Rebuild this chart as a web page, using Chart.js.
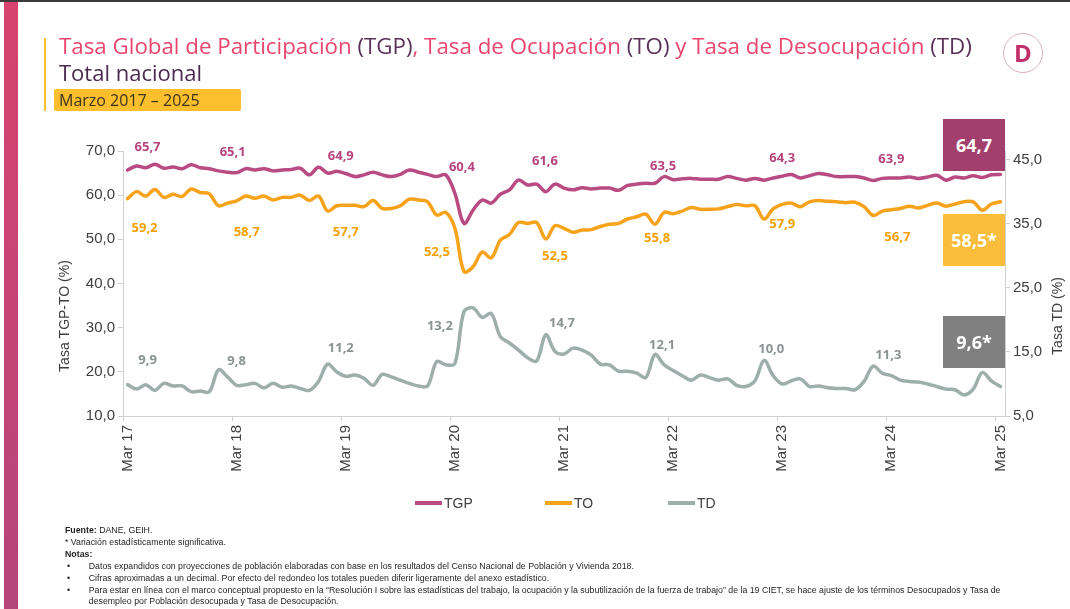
<!DOCTYPE html>
<html>
<head>
<meta charset="utf-8">
<script src="https://cdn.jsdelivr.net/npm/chart.js@4.4.1/dist/chart.umd.min.js"></script>
<style>
    html, body { margin: 0; padding: 0; background: #fff; }
    #page { position: relative; width: 1070px; height: 609px; overflow: hidden; background: #fff; font-family: 'Open Sans', sans-serif; }
    #topline { position: absolute; left: 0; top: 0; width: 1070px; height: 2px; background: #3b3b3b; }
    #sidebar { position: absolute; left: 4px; top: 2px; width: 14px; height: 607px; background: linear-gradient(#d8436f, #b4457b); }
    #cv { position: absolute; left: 0; top: 0; }
    #ybar { position: absolute; left: 44px; top: 38px; width: 2px; height: 73px; background: #fbbf2d; }
    #title { position: absolute; left: 59px; top: 32px; font-size: 22px; line-height: 27px; color: #e9456f; white-space: nowrap; transform-origin: left top; }
    #title b { font-weight: normal; color: #5a3157; }
    #sub { position: absolute; left: 59px; top: 59px; font-size: 22px; line-height: 27px; color: #4b2a4f; white-space: nowrap; }
    #period { position: absolute; left: 54px; top: 89px; width: 187px; height: 22px; background: #fbbf2d; border-radius: 2px; }
    #period span { position: absolute; left: 5px; top: 0; font-size: 16px; line-height: 22px; color: #3d3320; }
    #logo { position: absolute; left: 1003px; top: 33px; width: 38px; height: 38px; border: 1px solid #d7b3c3; border-radius: 50%; text-align: center; font: bold 24px/38px 'Open Sans', sans-serif; color: #c2306b; }
    .box { position: absolute; left: 943px; width: 62px; height: 52px; color: #fff; font: bold 18px/52px 'Open Sans', sans-serif; text-align: center; }
    .lg { position: absolute; top: 494px; height: 18px; font: 14px/18px 'Liberation Sans', sans-serif; color: #404040; white-space: nowrap; }
    .lg i { display: inline-block; width: 27px; height: 4px; margin-right: 2px; vertical-align: middle; position: relative; top: -1px; }
    #notes { position: absolute; left: 65px; top: 525px; font-family: 'Liberation Sans Narrow', 'Liberation Sans', sans-serif; font-size: 8.5px; line-height: 11.9px; color: #1e1e1e; white-space: nowrap; transform-origin: left top; }
    #notes .bl { padding-left: 23px; position: relative; }
    #notes .bl::before { content: '\2022'; position: absolute; left: 2px; }
    #notes .bl.nob::before { content: ''; }
</style>
</head>
<body>
<div id="page">
    <div id="topline"></div>
    <div id="sidebar"></div>
    <canvas id="cv" width="1070" height="609"></canvas>
    <div id="ybar"></div>
    <div id="title">Tasa Global de Participación <b>(TGP)</b>, Tasa de Ocupación <b>(TO)</b> y Tasa de Desocupación <b>(TD)</b></div>
    <div id="sub">Total nacional</div>
    <div id="period"><span>Marzo 2017 – 2025</span></div>
    <div id="logo">D</div>
    <div id="notes">
        <div><b>Fuente:</b> DANE, GEIH.</div>
        <div>* Variación estadísticamente significativa.</div>
        <div><b>Notas:</b></div>
        <div class="bl">Datos expandidos con proyecciones de población elaboradas con base en los resultados del Censo Nacional de Población y Vivienda 2018.</div>
        <div class="bl">Cifras aproximadas a un decimal. Por efecto del redondeo los totales pueden diferir ligeramente del anexo estadístico.</div>
        <div class="bl" id="longline">Para estar en línea con el marco conceptual propuesto en la “Resolución I sobre las estadísticas del trabajo, la ocupación y la subutilización de la fuerza de trabajo” de la 19 CIET, se hace ajuste de los términos Desocupados y Tasa de</div>
        <div class="bl nob">desempleo por Población desocupada y Tasa de Desocupación.</div>
    </div>
</div>
<script>
// ===== Mercado laboral: TGP, TO, TD (mensual, mar 2017 - mar 2025) =====
const MONTHS = ['Mar', 'Abr', 'May', 'Jun', 'Jul', 'Ago', 'Sep', 'Oct', 'Nov', 'Dic', 'Ene', 'Feb'];
const FIRST_YEAR = 17;
const N_POINTS = 97;

const tgp = [
    65.7, 66.6, 66.2, 67.0, 66.1, 66.4, 66.0, 66.9, 66.2, 66.0, 65.5, 65.2,
    65.1, 66.0, 65.7, 66.0, 65.5, 65.7, 65.8, 66.1, 64.6, 66.3, 65.0, 65.4,
    64.9, 64.2, 64.6, 65.2, 64.6, 64.2, 64.7, 65.7, 65.2, 64.7, 64.2, 64.6,
    60.4, 53.6, 56.6, 58.9, 58.2, 60.2, 61.2, 63.4, 62.3, 62.5, 60.8, 62.5,
    61.6, 61.2, 61.7, 61.4, 61.6, 61.6, 61.1, 62.2, 62.5, 62.7, 62.7, 64.2,
    63.5, 63.7, 63.8, 63.6, 63.6, 63.6, 64.2, 63.8, 63.4, 63.8, 63.4, 63.9,
    64.3, 64.7, 63.9, 64.4, 64.9, 64.6, 64.2, 64.2, 64.2, 63.9, 63.3, 63.8,
    63.9, 63.9, 64.1, 63.8, 64.1, 64.5, 63.4, 64.1, 63.9, 64.4, 64.0, 64.6,
    64.7
];
const to = [
    59.2, 60.8, 59.8, 61.3, 59.5, 60.2, 59.7, 61.4, 60.6, 60.3, 57.6, 58.2,
    58.7, 59.8, 59.3, 59.8, 58.9, 59.5, 59.5, 60.0, 58.8, 59.8, 56.4, 57.6,
    57.7, 57.7, 57.4, 58.8, 57.0, 57.0, 57.6, 59.1, 58.9, 58.5, 55.5, 56.1,
    52.5, 42.7, 43.8, 47.1, 45.8, 49.8, 51.1, 53.8, 53.6, 53.8, 50.1, 53.1,
    52.5, 51.6, 52.1, 52.2, 52.9, 53.4, 53.6, 54.6, 55.1, 55.7, 53.4, 56.1,
    55.8, 56.4, 57.2, 56.8, 56.8, 56.9, 57.4, 57.9, 57.6, 57.6, 54.6, 56.9,
    57.9, 58.2, 57.4, 58.5, 58.8, 58.6, 58.5, 58.3, 58.4, 57.4, 55.4, 56.4,
    56.7, 57.0, 57.5, 57.1, 57.7, 58.2, 57.5, 58.0, 58.5, 58.5, 56.6, 58.0,
    58.5
];
const td = [
    9.9, 9.2, 9.9, 9.0, 10.1, 9.7, 9.7, 8.8, 8.9, 8.8, 12.2, 11.1,
    9.8, 9.9, 10.1, 9.4, 10.1, 9.5, 9.7, 9.3, 9.0, 10.4, 13.1, 11.9,
    11.2, 11.4, 10.9, 9.8, 11.5, 11.1, 10.6, 10.1, 9.7, 9.7, 13.5, 13.0,
    13.2, 21.3, 21.9, 20.4, 21.0, 17.4, 16.4, 15.3, 14.1, 13.6, 17.7, 15.1,
    14.7, 15.6, 15.3, 14.5, 13.1, 13.0, 12.0, 12.0, 11.7, 11.0, 14.6, 13.0,
    12.1, 11.3, 10.6, 11.4, 11.0, 10.6, 10.8, 9.8, 9.6, 10.5, 13.7, 11.3,
    10.0, 10.5, 10.8, 9.6, 9.7, 9.4, 9.3, 9.3, 9.1, 10.4, 12.8, 11.7,
    11.3, 10.6, 10.4, 10.3, 10.0, 9.6, 9.2, 9.1, 8.3, 9.2, 11.8, 10.5,
    9.6
];
const leftTicks = [10, 20, 30, 40, 50, 60, 70];
const rightTicks = [5, 15, 25, 35, 45];

const labels = [];
for (let i = 0; i < N_POINTS; i++) {
    const yy = FIRST_YEAR + Math.floor((i + 2) / 12);
    labels.push(MONTHS[i % 12] + ' ' + yy);
}

const fmt = v => v.toFixed(1).replace('.', ',');

// label offsets (px) from each March point
const labelSpots = {
    TGP: [[20, -23], [-4, -20], [-5, -17], [7, -26], [-19, -27], [-10, -13], [0, -18], [0, -19]],
    TO: [[17, 30], [10, 31], [0, 27], [-18, 24], [-9, 28], [-16, 25], [0, 20], [6, 28]],
    TD: [[20, -24], [0, -24], [-5, -28], [-15, -37], [-2, -31], [-11, -25], [-11, -35], [-3, -20]]
};
const labelColors = { TGP: '#b5437e', TO: '#f5a000', TD: '#8b9392' };

const marchLabels = {
    id: 'marchLabels',
    afterDatasetsDraw(chart) {
        const ctx = chart.ctx;
        chart.data.datasets.forEach((ds, di) => {
            const spots = labelSpots[ds.label];
            const meta = chart.getDatasetMeta(di);
            ctx.save();
            ctx.font = 'bold 13px "Open Sans"';
            ctx.fillStyle = labelColors[ds.label];
            ctx.textAlign = 'center';
            ctx.textBaseline = 'middle';
            spots.forEach((s, k) => {
                const p = meta.data[k * 12];
                ctx.fillText(fmt(ds.data[k * 12]), p.x + s[0], p.y + s[1]);
            });
            ctx.restore();
        });
    }
};

// both axis titles read bottom-to-top in the slide
const axisTitles = [
    { text: 'Tasa TGP-TO (%)', x: 65, y: 316 },
    { text: 'Tasa TD (%)', x: 1058, y: 316 }
];
const axisTitlePlugin = {
    id: 'axisTitlePlugin',
    afterDraw(chart) {
        const ctx = chart.ctx;
        axisTitles.forEach(t => {
            ctx.save();
            ctx.translate(t.x, t.y);
            ctx.rotate(-Math.PI / 2);
            ctx.font = '14px "Liberation Sans"';
            ctx.fillStyle = '#404040';
            ctx.textAlign = 'center';
            ctx.textBaseline = 'middle';
            ctx.fillText(t.text, 0, 0);
            ctx.restore();
        });
    }
};

const AXIS = '#d0d0d0';
const TICKFONT = { family: 'Liberation Sans', size: 15 };

const chart = new Chart(document.getElementById('cv').getContext('2d'), {
    type: 'line',
    data: {
        labels,
        datasets: [
            { label: 'TGP', data: tgp, borderColor: '#b94b83', backgroundColor: '#b94b83', yAxisID: 'y' },
            { label: 'TO', data: to, borderColor: '#f7a21b', backgroundColor: '#f7a21b', yAxisID: 'y' },
            { label: 'TD', data: td, borderColor: '#9eaeab', backgroundColor: '#9eaeab', yAxisID: 'y2' }
        ]
    },
    options: {
        responsive: false, animation: false,
        layout: { padding: { left: 40, right: 0, top: 151, bottom: 119 } },
        elements: { line: { borderWidth: 3.5, tension: 0.35, borderCapStyle: 'round', borderJoinStyle: 'round' }, point: { radius: 0 } },
        plugins: { legend: { display: false }, tooltip: { enabled: false } },
        scales: {
            x: {
                type: 'category', offset: true,
                grid: { offset: true, drawOnChartArea: false, tickLength: 5, color: c => c.index % 12 === 0 ? AXIS : 'rgba(0,0,0,0)' },
                border: { color: AXIS },
                ticks: { autoSkip: false, minRotation: 90, maxRotation: 90, padding: 4, color: '#404040', font: TICKFONT,
                    callback: (v, i) => i % 12 === 0 ? labels[i] : '' },
                afterFit: s => { s.height = 74; }
            },
            y: {
                position: 'left', min: leftTicks[0], max: leftTicks[leftTicks.length - 1],
                afterBuildTicks: s => { s.ticks = leftTicks.map(v => ({ value: v })); },
                grid: { drawOnChartArea: false, tickLength: 5, color: AXIS },
                border: { color: AXIS },
                ticks: { padding: 3, color: '#404040', font: TICKFONT, callback: v => fmt(v) },
                afterFit: s => { s.width = 83; }
            },
            y2: {
                position: 'right', min: 5, max: 46.4,
                afterBuildTicks: s => { s.ticks = rightTicks.map(v => ({ value: v })); },
                grid: { drawOnChartArea: false, tickLength: 5, color: AXIS },
                border: { color: AXIS },
                ticks: { padding: 3, color: '#404040', font: TICKFONT, callback: v => fmt(v) },
                afterFit: s => { s.width = 65; }
            }
        }
    },
    plugins: [marchLabels, axisTitlePlugin]
});

// last-value boxes
const page = document.getElementById('page');
const last = N_POINTS - 1;
[[fmt(tgp[last]), '#a33f6d', 119], [fmt(to[last]) + '*', '#fbbe3c', 214], [fmt(td[last]) + '*', '#808080', 316]].forEach(([t, c, top]) => {
    const d = document.createElement('div');
    d.className = 'box';
    d.style.background = c;
    d.style.top = top + 'px';
    d.textContent = t;
    page.appendChild(d);
});

// legend
const legendX = [415, 545, 668];
chart.data.datasets.forEach((ds, i) => {
    const d = document.createElement('div');
    d.className = 'lg';
    d.style.left = legendX[i] + 'px';
    d.innerHTML = '<i style="background:' + ds.borderColor + '"></i>' + ds.label;
    page.appendChild(d);
});

// squeeze title and notes to the widths they have in the slide
const title = document.getElementById('title');
title.style.transform = 'scaleX(' + (913 / title.scrollWidth) + ')';
const notes = document.getElementById('notes');
const longline = document.getElementById('longline');
notes.style.transform = 'scaleX(' + (935 / longline.scrollWidth) + ')';
</script>
</body>
</html>
